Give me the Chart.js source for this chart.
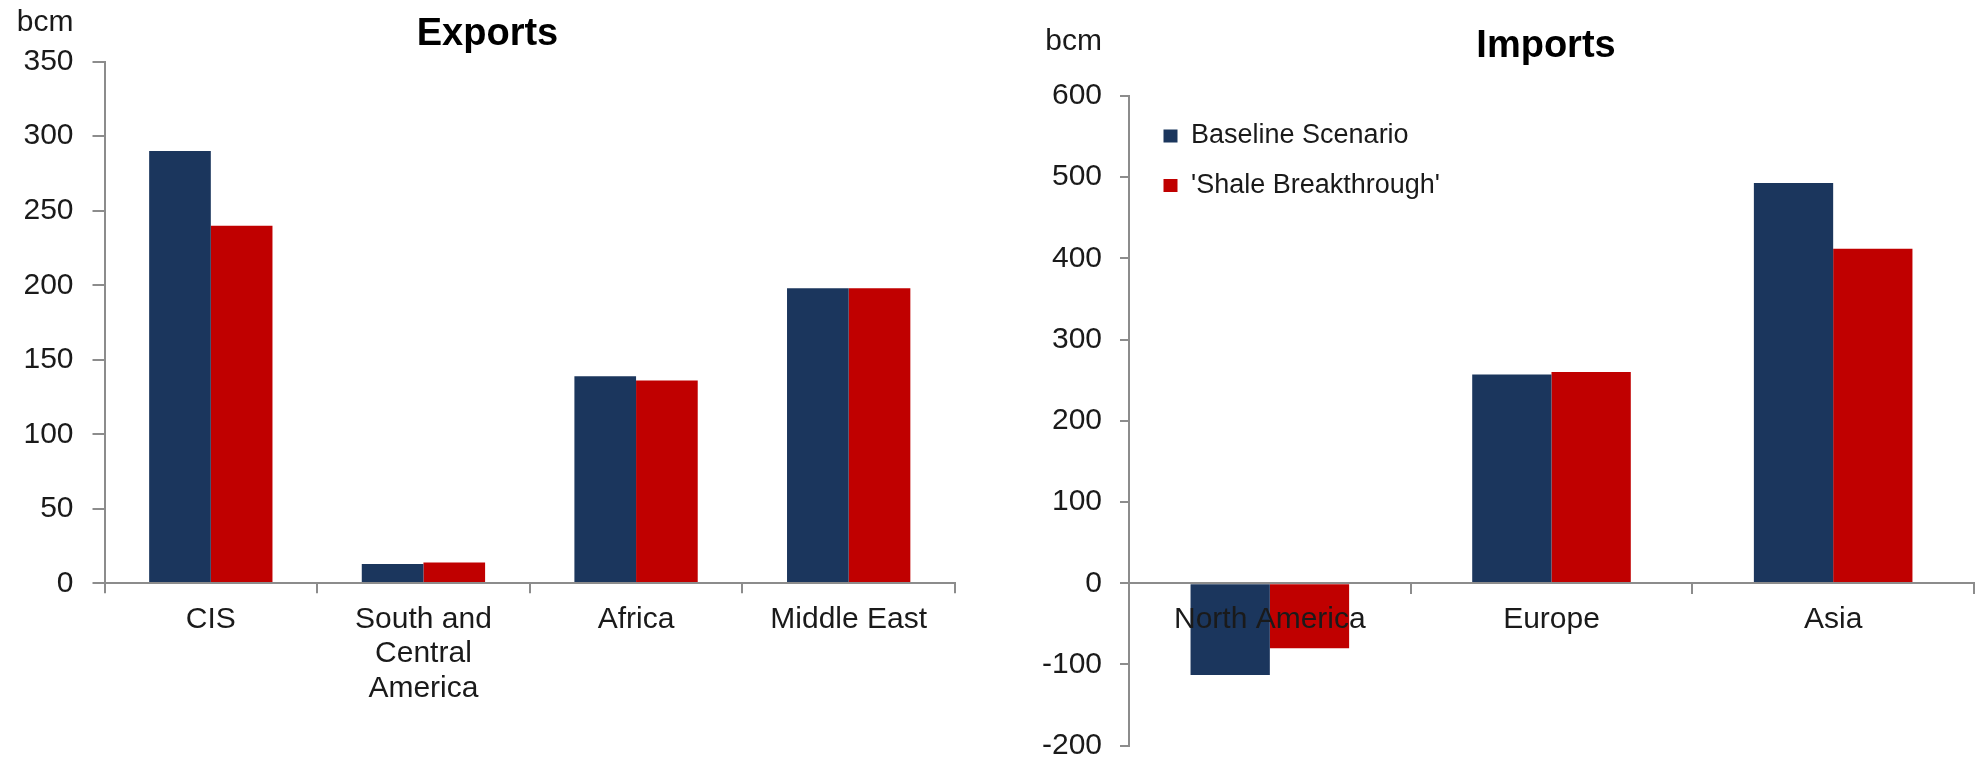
<!DOCTYPE html>
<html>
<head>
<meta charset="utf-8">
<title>Gas exports and imports</title>
<script src="https://cdn.jsdelivr.net/npm/chart.js@4.4.1/dist/chart.umd.min.js"></script>
<style>
  html, body { margin: 0; padding: 0; background: #fff; }
  body { width: 1983px; height: 758px; position: relative; overflow: hidden; }
  canvas { position: absolute; top: 0; }
  #chart-exports { left: 0; }
  #chart-imports { left: 990px; }
</style>
</head>
<body>
<canvas id="chart-exports" width="975" height="758"></canvas>
<canvas id="chart-imports" width="993" height="758"></canvas>
<script>
const seriesNames = ['Baseline Scenario', "'Shale Breakthrough'"]

const exportRegions = ['CIS', ['South and', 'Central', 'America'], 'Africa', 'Middle East']
const exportsBaseline = [290, 13, 139, 198]
const exportsShale = [240, 14, 136, 198]
const exportsRange = [0, 350]
const exportsStep = 50

const importRegions = ['North America', 'Europe', 'Asia']
const importsBaseline = [-113, 257, 493]
const importsShale = [-80, 260, 412]
const importsRange = [-200, 600]
const importsStep = 100

const seriesColors = ['#1b365d', '#c00000']
const AXIS_GREY = '#8c8c8c'
const TEXT = '#1a1a1a'

Chart.defaults.font.family = '"Liberation Sans", Arial, sans-serif'
Chart.defaults.color = TEXT

// "bcm" unit written above the value axis, right-aligned with the tick labels
const unitLabel = {
  id: 'unitLabel',
  afterDraw (chart, args, opts) {
    const { ctx } = chart
    const y = chart.scales.y
    ctx.save()
    ctx.font = '30px "Liberation Sans", Arial, sans-serif'
    ctx.fillStyle = TEXT
    ctx.textAlign = 'right'
    ctx.textBaseline = 'alphabetic'
    ctx.fillText(opts.text, y.right - opts.gap, opts.y)
    ctx.restore()
  },
}

// the y axis box is kept narrow (the title is centred on what is left of the
// layout padding), so hand the tick labels the whole strip left of the axis
const tickRoom = {
  id: 'tickRoom',
  afterLayout (chart) {
    chart.scales.y.left = 0
  },
}

// nudge the legend into the top-left corner of the plot
const legendInPlot = {
  id: 'legendInPlot',
  afterLayout (chart, args, opts) {
    const legend = chart.legend
    if (!legend) return
    legend.left = chart.chartArea.left + opts.dx
    legend.top = chart.chartArea.top + opts.dy
    legend.bottom = chart.chartArea.bottom
  },
}

function datasetsFor (baseline, shale, groupWidth) {
  return [baseline, shale].map((data, i) => ({
    label: seriesNames[i],
    data,
    backgroundColor: seriesColors[i],
    borderWidth: 0,
    categoryPercentage: groupWidth,
    barPercentage: 1,
  }))
}

function yScale (range, step, width, tickLength, padding) {
  return {
    min: range[0],
    max: range[1],
    afterFit (scale) {
      scale.width = width
      scale.paddingTop = 0
      scale.paddingBottom = 0
    },
    border: { color: AXIS_GREY, width: 2, z: 1 },
    grid: { drawOnChartArea: false, tickLength, color: AXIS_GREY, lineWidth: 2 },
    ticks: { stepSize: step, padding, font: { size: 30 }, color: TEXT },
  }
}

function xScale (position, height) {
  return {
    position,
    afterFit (scale) {
      scale.height = height
      scale.paddingLeft = 0
      scale.paddingRight = 0
    },
    border: { color: AXIS_GREY, width: 2, z: 1 },
    grid: { drawOnChartArea: false, offset: true, tickLength: 10, color: AXIS_GREY, lineWidth: 2 },
    ticks: {
      padding: 9,
      autoSkip: false,
      maxRotation: 0,
      font: { size: 30, lineHeight: 1.15 },
      color: TEXT,
      z: 1,
    },
  }
}

new Chart(document.getElementById('chart-exports'), {
  type: 'bar',
  data: {
    labels: exportRegions,
    datasets: datasetsFor(exportsBaseline, exportsShale, 0.58),
  },
  options: {
    responsive: false,
    animation: false,
    layout: { padding: { left: 20, right: 20 } },
    plugins: {
      title: {
        display: true,
        text: 'Exports',
        color: '#000',
        font: { size: 38, weight: 'bold', lineHeight: 1.2 },
        padding: { top: 11.3, bottom: 4.8 },
      },
      legend: { display: false },
      tooltip: { enabled: false },
      unitLabel: { text: 'bcm', y: 31, gap: 31 },
    },
    scales: {
      x: xScale('bottom', 174.7),
      y: yScale(exportsRange, exportsStep, 84.5, 12, 19),
    },
  },
  plugins: [unitLabel, tickRoom],
})

new Chart(document.getElementById('chart-imports'), {
  type: 'bar',
  data: {
    labels: importRegions,
    datasets: datasetsFor(importsBaseline, importsShale, 0.563),
  },
  options: {
    responsive: false,
    animation: false,
    layout: { padding: { left: 128, right: 9, bottom: 12.3 } },
    plugins: {
      title: {
        display: true,
        text: 'Imports',
        color: '#000',
        font: { size: 38, weight: 'bold', lineHeight: 1.2 },
        padding: { top: 24, bottom: 26.4 },
      },
      legend: {
        display: true,
        position: 'chartArea',
        align: 'start',
        fullSize: false,
        labels: {
          boxWidth: 14,
          boxHeight: 13,
          padding: 22.5,
          color: TEXT,
          font: { size: 27 },
        },
      },
      tooltip: { enabled: false },
      unitLabel: { text: 'bcm', y: 50, gap: 27 },
      legendInPlot: { dx: 12, dy: 4 },
    },
    scales: {
      x: xScale({ y: 0 }, 0),
      y: yScale(importsRange, importsStep, 11, 9, 18),
    },
  },
  plugins: [unitLabel, tickRoom, legendInPlot],
})
</script>
</body>
</html>
